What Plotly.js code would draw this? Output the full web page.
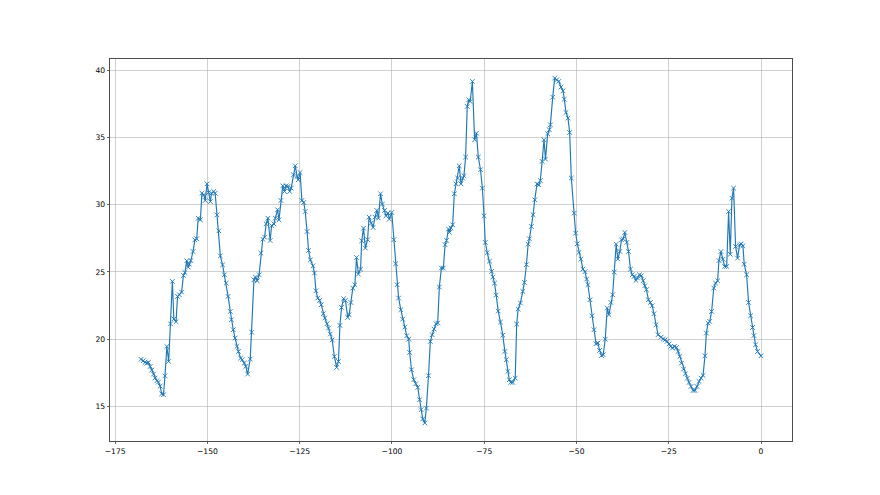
<!DOCTYPE html>
<html>
<head>
<meta charset="utf-8">
<script src="https://cdn.plot.ly/plotly-3.0.1.min.js"></script>
<style>html,body{margin:0;padding:0;background:#fff}#chart{width:880px;height:495px}</style>
</head>
<body>
<div id="chart"></div>
<script>
const xValues = [
-168.0,-167.4,-166.9,-166.4,-166.0,-165.5,-165.1,-164.6,-164.2,-163.7,-163.3,-162.8,-162.4,-161.9,-161.5,-161.0,-160.5,-160.0,-159.5,-159.1,
-158.5,-158.1,-157.6,-157.0,-156.5,-156.1,-155.6,-155.2,-154.9,-154.5,-153.9,-153.4,-152.9,-152.5,-151.9,-151.5,-151.0,-150.6,-150.1,-149.7,
-149.2,-148.9,-148.3,-147.9,-147.4,-146.9,-146.5,
-145.9,-145.4,-144.9,-144.4,-143.8,-143.5,-143.0,-142.5,-142.0,-141.6,-141.0,-140.6,-140.0,-139.6,-139.1,-138.4,-138.0,-137.4,-137.0,-136.5,
-136.0,-135.5,-135.0,-134.5,-134.1,-133.6,-133.0,-132.6,-132.0,-131.6,-131.0,-130.6,-130.1,-129.6,-129.1,-128.7,-128.2,-127.7,-127.3,-126.7,
-126.2,-125.7,-125.4,-124.9,-124.4,-123.9,-123.5,-123.0,-122.6,-122.1,
-121.4,-121.0,-120.6,-120.1,-119.6,-119.15,-118.6,-118.2,-117.6,-117.2,-116.7,-116.2,-115.6,-115.0,-114.5,-114.1,-113.65,-113.1,-112.6,-112.0,
-111.6,-111.13,-110.6,-110.05,-109.6,-109.1,-108.5,-108.2,-107.7,-107.2,-106.6,-106.2,-105.6,-105.1,-104.6,-104.1,-103.65,-103.1,-102.6,-102.0,
-101.6,-101.1,-100.7,-100.05,-99.5,-99.0,-98.6,-98.2,
-97.6,-97.1,-96.5,-96.0,-95.45,-95.2,-94.7,-94.1,-93.55,-93.0,-92.5,-92.1,-91.66,-91.1,-90.67,-90.1,-89.6,-89.1,-88.6,-88.06,
-87.6,-87.16,-86.6,-86.08,-85.6,-85.2,-84.7,-84.4,-84.0,-83.55,-83.1,-82.65,-82.2,-81.75,-81.3,-80.85,-80.5,-80.04,-79.6,-79.2,
-78.8,-78.2,-77.6,-77.1,-76.6,-76.0,-75.5,-75.05,-74.7,
-74.19,-73.56,-73.0,-72.66,-72.2,-71.76,-71.2,-70.6,-69.96,-69.4,-69.0,-68.6,-68.2,-67.8,-67.25,-66.6,-66.2,-65.8,-65.2,-64.55,
-64.1,-63.56,-63.1,-62.75,-62.2,-61.76,-61.3,-60.7,-60.2,-59.8,-59.3,-58.8,-58.4,-57.8,-57.34,-57.07,-56.44,-55.9,-55.36,-54.8,
-54.2,-53.65,-53.3,-52.84,-52.3,-51.85,-51.4,
-50.6,-50.23,-49.78,-49.33,-48.8,-48.25,-47.7,-47.25,-46.9,-46.35,-45.8,-45.27,-44.7,-44.2,-43.74,-43.2,-42.75,-42.2,-41.67,-41.2,
-40.68,-40.2,-39.78,-39.24,-38.8,-38.25,-37.8,-37.35,-36.9,-36.35,-35.9,-35.36,-34.9,-34.37,-33.9,-33.47,-32.93,-32.4,-31.94,-31.5,
-31.04,-30.5,-29.96,-29.5,-29.0,-28.43,-27.9,
-27.07,-26.5,-25.99,-25.45,-24.9,-24.46,-24.0,-23.47,-22.9,-22.47,-22.0,-21.57,-21.0,-20.5,-19.95,-19.5,-18.96,-18.4,-17.88,-17.34,
-16.8,-16.26,-15.7,-15.18,-14.8,-14.37,-13.9,-13.38,-12.8,-12.3,-11.75,-11.4,-10.85,-10.3,-9.86,-9.3,-8.78,-8.33,-7.88,-7.43,
-6.89,-6.35,-5.81,-5.36,-4.9,-4.55,-3.9,-3.37,-2.83,-2.29,-1.93,-1.48,-0.94,0.0
];

const yValues = [
18.5,18.39,18.27,18.2,18.27,17.97,17.7,17.4,17.1,16.9,16.8,16.5,15.93,15.86,17.27,19.45,18.34,21.14,24.3,21.5,
21.3,23.18,23.3,23.5,24.74,24.96,25.83,25.36,25.58,25.85,26.52,27.39,27.47,29.0,28.88,30.86,30.74,30.32,31.56,30.91,
30.24,30.86,30.99,30.86,29.25,28.06,26.2,
25.53,24.79,24.17,23.18,22.06,21.44,20.7,20.08,19.46,19.08,18.59,18.47,18.22,17.97,17.4,18.52,20.52,24.42,24.62,24.34,
24.79,26.4,27.44,27.59,28.58,29.0,27.34,28.44,28.58,29.0,29.63,28.88,30.32,31.41,30.99,31.41,31.36,30.99,31.24,32.23,
32.9,32.11,31.86,32.4,30.32,30.17,29.5,28.01,26.6,25.9,
25.46,24.92,23.6,23.06,22.88,22.56,21.89,21.57,21.15,20.82,20.38,19.95,18.71,17.9,18.34,21.02,22.36,23.01,22.88,21.62,
21.82,22.73,23.8,24.05,26.08,24.84,25.21,27.32,28.26,26.78,27.4,29.08,28.64,28.31,29.08,29.58,29.01,30.82,30.05,29.58,
29.18,29.38,28.93,29.43,27.4,25.61,24.05,23.06,
22.19,21.49,20.9,20.25,20.0,19.01,17.72,16.98,16.68,16.41,15.49,14.75,14.06,13.76,14.87,17.28,19.83,20.33,20.75,21.15,
21.2,23.88,25.29,25.29,27.03,27.35,28.19,27.94,28.27,28.51,30.82,31.56,31.99,32.9,31.56,31.99,32.16,33.55,37.32,37.81,
37.69,39.18,34.84,35.33,33.55,32.61,31.24,29.18,27.2,
26.45,25.81,25.04,24.62,24.17,23.28,22.09,21.27,20.3,19.09,18.47,17.6,16.98,16.78,16.78,17.1,21.12,22.24,22.69,23.55,
24.22,25.54,27.07,27.47,28.39,29.26,30.37,31.54,31.49,31.81,33.23,34.84,33.4,35.28,35.58,35.95,38.01,39.43,39.3,39.18,
38.76,38.48,37.86,36.87,36.45,35.38,31.99,
29.38,27.89,27.1,26.45,25.96,25.21,25.02,24.47,24.05,22.93,21.74,20.7,19.66,19.71,19.16,18.77,18.84,20.0,22.31,21.82,
22.73,23.3,24.99,27.07,25.96,26.53,27.4,27.47,27.94,27.2,26.53,25.21,24.79,24.67,24.37,24.55,24.79,24.72,24.35,23.97,
23.68,22.93,22.73,22.49,21.89,21.07,20.33,
20.15,20.0,19.95,19.83,19.65,19.46,19.33,19.46,19.38,19.08,18.71,18.21,17.77,17.42,17.1,16.78,16.48,16.18,16.18,16.48,
16.85,17.1,17.3,18.76,20.45,21.19,21.32,22.06,23.8,24.17,24.34,25.85,26.52,25.95,25.41,25.41,29.5,26.32,30.49,31.24,
26.9,26.03,27.02,27.09,26.95,25.58,24.79,22.73,21.74,20.87,20.27,19.58,19.08,18.76
];

const xTicks = [-175, -150, -125, -100, -75, -50, -25, 0];
const yTicks = [15, 20, 25, 30, 35, 40];

const trace = {
  x: xValues,
  y: yValues,
  type: 'scatter',
  mode: 'lines+markers',
  line: {color: '#1f77b4', width: 1.15},
  marker: {symbol: 'x-thin-open', size: 4.6, color: '#1f77b4', line: {color: '#1f77b4', width: 0.9}},
  hoverinfo: 'x+y'
};

const axisCommon = {
  showgrid: true,
  gridcolor: '#b0b0b0',
  gridwidth: 0.6,
  zeroline: false,
  showline: true,
  mirror: true,
  linecolor: '#000000',
  linewidth: 0.7,
  ticks: 'outside',
  ticklen: 2.7,
  tickwidth: 0.6,
  tickcolor: '#000000',
  tickfont: {family: 'DejaVu Sans', size: 7.6, color: '#000000'}
};

const layout = {
  width: 880,
  height: 495,
  margin: {l: 110, r: 88, t: 59, b: 54, pad: 0},
  paper_bgcolor: '#ffffff',
  plot_bgcolor: '#ffffff',
  showlegend: false,
  xaxis: Object.assign({}, axisCommon, {range: [-176.4, 8.4], tickmode: 'array', tickvals: xTicks, ticktext: xTicks.map(v => v < 0 ? '\u2212' + Math.abs(v) : String(v))}),
  yaxis: Object.assign({}, axisCommon, {range: [12.42, 40.85], tickmode: 'array', tickvals: yTicks, ticktext: yTicks.map(String)})
};

Plotly.newPlot('chart', [trace], layout, {displayModeBar: false, staticPlot: true});
</script>
</body>
</html>
